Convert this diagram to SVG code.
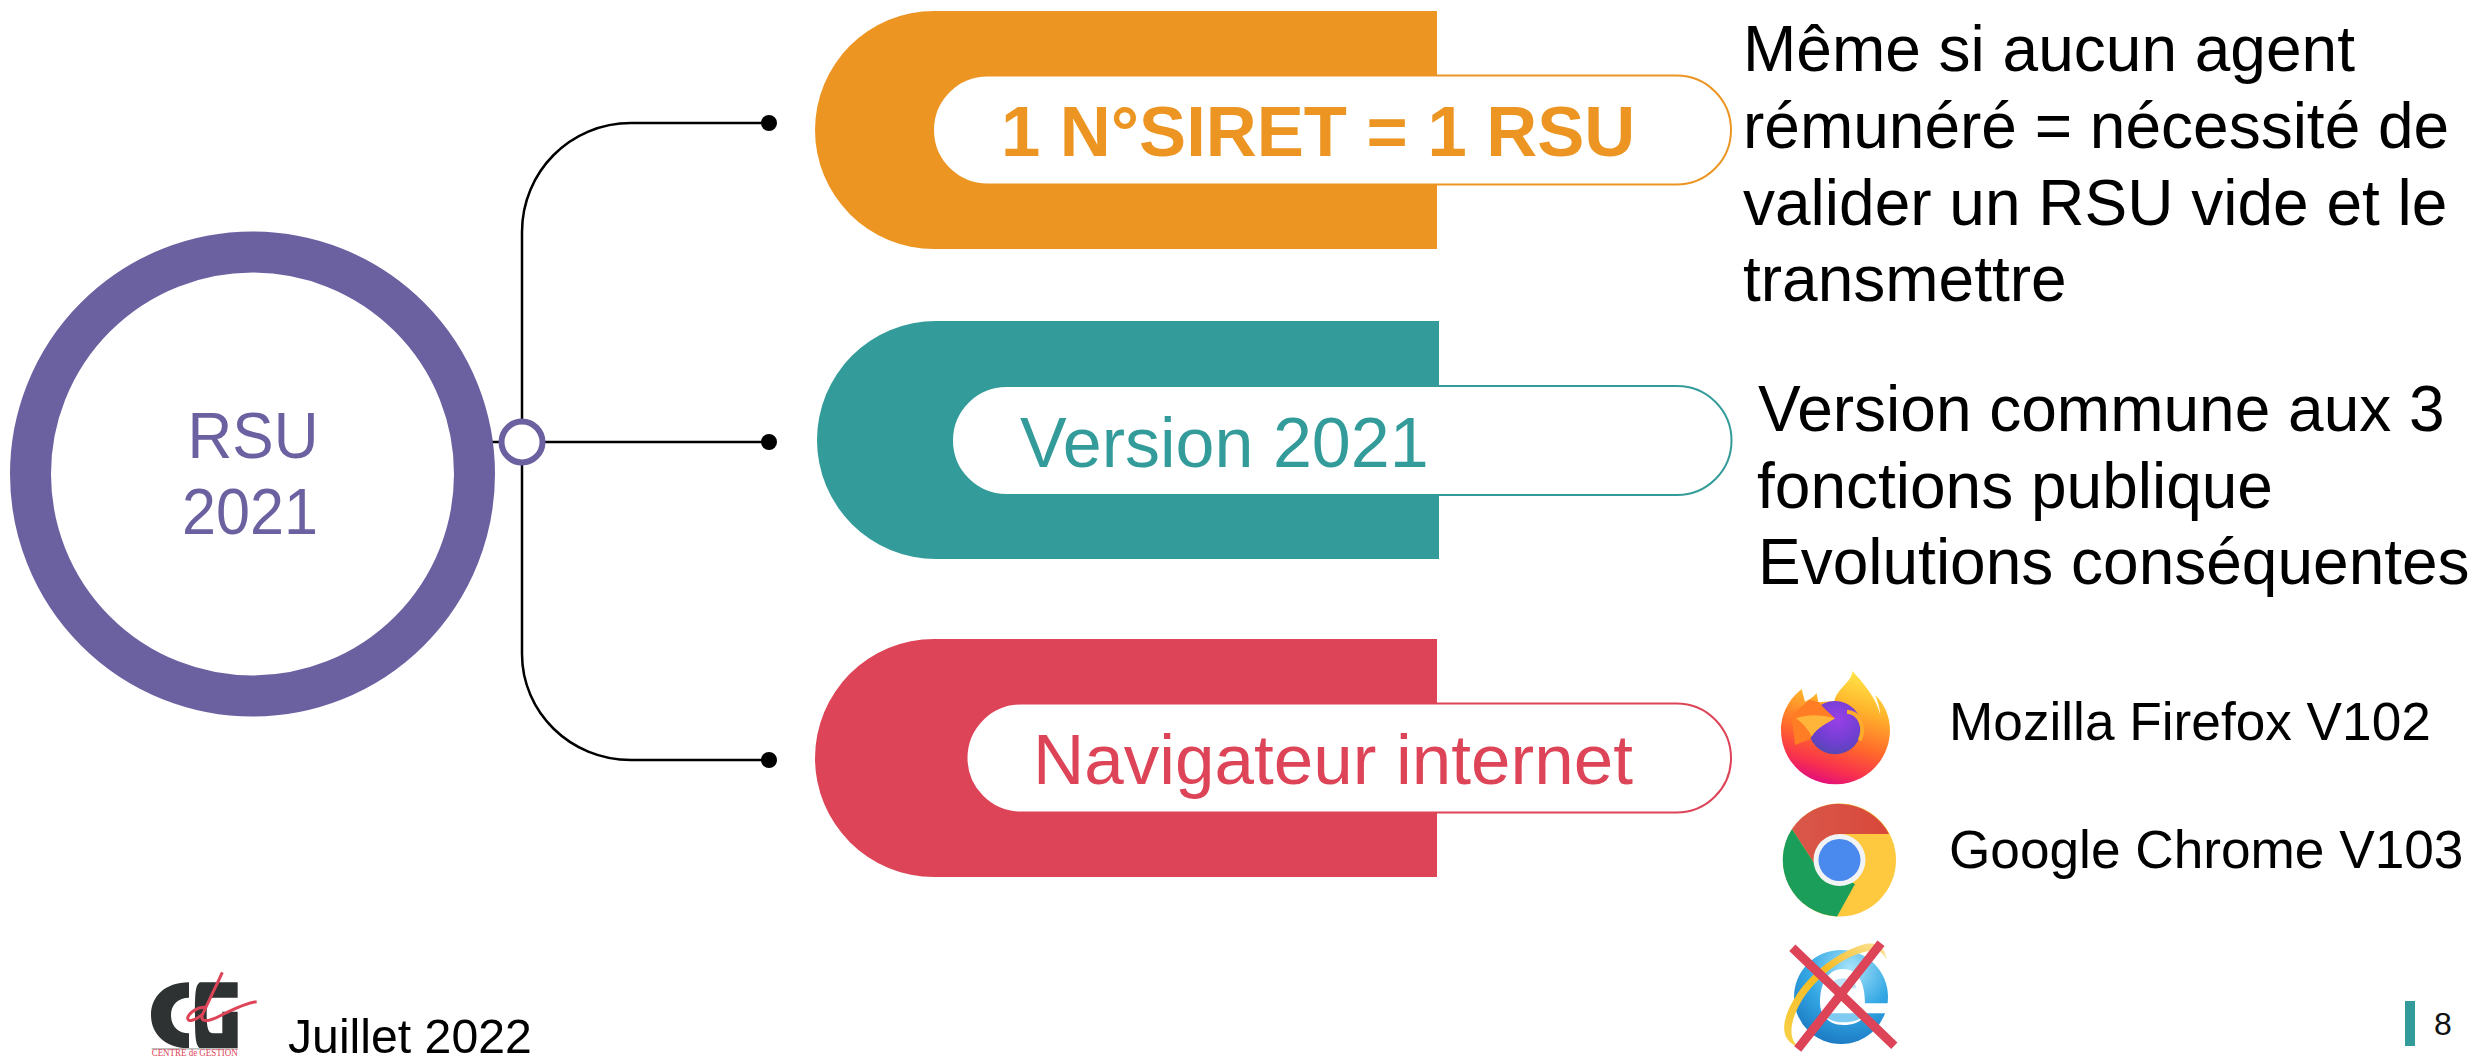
<svg xmlns="http://www.w3.org/2000/svg" width="2478" height="1057" viewBox="0 0 2478 1057">
<style>
text{font-family:"Liberation Sans",Arial,sans-serif}
.t{font-size:64px;fill:#000}
.b{font-size:53.2px;fill:#000}
.pill{fill:#fff;stroke-width:2}
.ln{fill:none;stroke:#000;stroke-width:2.5}
</style>
<defs>
<linearGradient id="ffBody" x1="0.72" y1="0" x2="0.42" y2="1"><stop offset="0" stop-color="#ffe84a"/><stop offset="0.3" stop-color="#ffb52c"/><stop offset="0.62" stop-color="#ff6a2a"/><stop offset="0.86" stop-color="#f8304e"/><stop offset="1" stop-color="#e3107a"/></linearGradient>
<radialGradient id="ffGlobe" cx="0.55" cy="0.35" r="0.75"><stop offset="0" stop-color="#9a3fe8"/><stop offset="0.6" stop-color="#6f3fd0"/><stop offset="1" stop-color="#4d4aa8"/></radialGradient>
<radialGradient id="ieBlue" cx="0.6" cy="0.2" r="0.9"><stop offset="0" stop-color="#a8e4fa"/><stop offset="0.5" stop-color="#34a8e4"/><stop offset="1" stop-color="#1771bd"/></radialGradient>
<linearGradient id="ieRing" x1="0" y1="1" x2="1" y2="0"><stop offset="0" stop-color="#f8d24a"/><stop offset="0.55" stop-color="#f5b91c"/><stop offset="1" stop-color="#fbe6a0"/></linearGradient>
<linearGradient id="crRed" x1="0" y1="0" x2="1" y2="0"><stop offset="0" stop-color="#d9584a"/><stop offset="1" stop-color="#d8483a"/></linearGradient>
</defs>

<g id="connectors">
<path class="ln" d="M492 442H769"/>
<path class="ln" d="M769 123H631C570 123 522 172 522 232V654C522 712 570 760 631 760H769"/>
<circle cx="769" cy="123" r="8"/>
<circle cx="769" cy="442" r="8"/>
<circle cx="769" cy="760" r="8"/>
</g>

<g id="node-rsu">
<circle cx="252.500" cy="474" r="222" fill="none" stroke="#6b61a1" stroke-width="41"/>
<text x="253" y="458" font-size="65" fill="#6b61a1" text-anchor="middle" textLength="131" lengthAdjust="spacingAndGlyphs">RSU</text>
<text x="250" y="534" font-size="65" fill="#6b61a1" text-anchor="middle" textLength="136" lengthAdjust="spacingAndGlyphs">2021</text>
</g>
<g id="node-hub"><circle cx="522" cy="442" r="20.500" fill="#fff" stroke="#6b61a1" stroke-width="6"/></g>

<g id="node-siret">
<path d="M1437 11H934A119 119 0 0 0 934 249H1437Z" fill="#ec9522"/>
<rect class="pill" x="933" y="75.500" width="798" height="109" rx="54.500" stroke="#ec9522"/>
<text x="1001" y="156" font-size="70.600" font-weight="bold" fill="#ec9522">1 N°SIRET = 1 RSU</text>
</g>
<g id="node-version">
<path d="M1439 321H936A119 119 0 0 0 936 559H1439Z" fill="#339c9a"/>
<rect class="pill" x="952" y="386" width="779.500" height="109" rx="54.500" stroke="#339c9a"/>
<text x="1020" y="467" font-size="70" fill="#339c9a">Version 2021</text>
</g>
<g id="node-nav">
<path d="M1437 639H934A119 119 0 0 0 934 877H1437Z" fill="#dd4457"/>
<rect class="pill" x="966.500" y="703.500" width="764.500" height="109" rx="54.500" stroke="#dd4457"/>
<text x="1033" y="784" font-size="71" fill="#dd4457">Navigateur internet</text>
</g>

<g id="note-siret">
<text class="t" x="1743" y="71">Même si aucun agent</text>
<text class="t" x="1743" y="148">rémunéré = nécessité de</text>
<text class="t" x="1743" y="225">valider un RSU vide et le</text>
<text class="t" x="1743" y="301">transmettre</text>
</g>
<g id="note-version">
<text class="t" x="1758" y="431">Version commune aux 3</text>
<text class="t" x="1757" y="508">fonctions publique</text>
<text class="t" x="1758" y="584">Evolutions conséquentes</text>
</g>
<g id="note-browsers">
<text class="b" x="1949" y="740">Mozilla Firefox V102</text>
<text class="b" x="1949" y="868">Google Chrome V103</text>
</g>

<g id="icon-firefox" transform="translate(1775 665) scale(0.3333)">
<path d="M80 72C32 110 18 160 18 195C18 285 90 358 182 358C272 358 345 285 345 195C345 155 328 115 300 90C308 108 314 128 316 150C305 100 262 50 232 18C232 50 186 70 178 108L130 112L125 85C115 96 102 105 90 110Z" fill="url(#ffBody)"/>
<circle cx="180" cy="188" r="80" fill="url(#ffGlobe)"/>
<path d="M104 104L132 112C150 135 170 150 180 160C150 170 120 185 106 222L60 240L50 150Z" fill="#ff7d24"/>
<path d="M62 160C90 150 130 145 180 160C160 175 128 185 110 215C100 195 85 175 62 160Z" fill="#ffb43a"/>
<path d="M216 140C256 142 272 190 254 226" fill="none" stroke="#ffab2c" stroke-width="12"/>
</g>

<g id="icon-chrome">
<circle cx="1839.500" cy="860" r="56.500" fill="#fec83f"/>
<path d="M1792 829A56.500 56.500 0 0 1 1889 834H1840L1814 863Z" fill="url(#crRed)"/>
<path d="M1792 829A56.500 56.500 0 0 0 1837 916.400L1855 884L1814 863Z" fill="#1b9e5a"/>
<circle cx="1839.500" cy="860" r="26" fill="#f1f3f4"/>
<circle cx="1839.500" cy="860" r="21" fill="#4a89ee"/>
</g>

<g id="icon-ie" transform="translate(1775 935) scale(0.3333)">
<circle cx="198" cy="186" r="141" fill="url(#ieBlue)"/>
<path d="M135 205C135 140 160 102 205 102C250 102 270 145 270 205H340V235H272C262 262 235 270 205 270C165 270 135 245 135 205Z" fill="#fff"/>
<path d="M165 160C170 138 185 130 205 130C225 130 240 138 245 160Z" fill="#bfe6f8"/>
<path d="M142 235H270C258 256 232 262 205 262C178 262 155 252 142 235Z" fill="#7fcaf0"/>
<path d="M70 335C20 320 15 270 50 205C90 130 170 60 260 30C300 18 330 30 335 75C325 48 300 42 265 52C190 72 110 140 70 215C45 265 40 310 70 335Z" fill="url(#ieRing)"/>
<path d="M52 38L358 332M318 25L68 342" stroke="#dd4457" stroke-width="27" fill="none"/>
</g>

<g id="logo" transform="translate(145 965) scale(0.3333)">
<path d="M132 52C60 52 18 95 18 150C18 210 65 250 132 250V205C100 205 78 185 78 150C78 118 100 98 132 98Z" fill="#2e3233"/>
<path d="M278 52H165C152 60 150 80 150 150C150 220 152 240 165 250H278V140H232V205H205C190 205 185 190 185 150C185 115 190 98 205 98H278Z" fill="#2e3233"/>
<path d="M232 22C215 60 190 110 172 150C165 170 185 175 230 150C270 130 310 112 335 110M185 128C160 122 130 145 128 160C128 172 150 168 172 148" fill="none" stroke="#dd4457" stroke-width="9"/>
<rect x="20" y="249" width="258" height="5" fill="#bdbdbd"/>
<text x="20" y="273" font-size="31" fill="#dd4457" textLength="258" lengthAdjust="spacingAndGlyphs" style="font-family:'Liberation Serif',serif">CENTRE de GESTION</text>
</g>

<g id="footer">
<text x="288" y="1053" font-size="48.200" fill="#000">Juillet 2022</text>
<rect x="2405" y="1001" width="10" height="45" fill="#339c9a"/>
<text x="2434" y="1035" font-size="32" fill="#111">8</text>
</g>
</svg>
